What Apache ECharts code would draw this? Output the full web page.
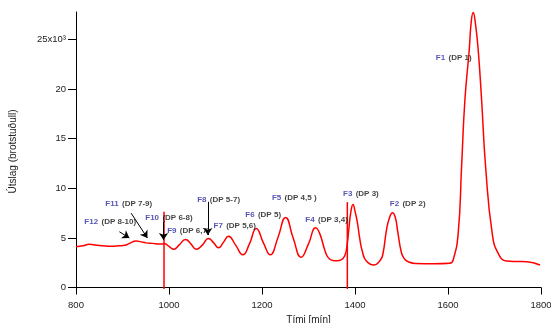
<!DOCTYPE html>
<html>
<head>
<meta charset="utf-8">
<script src="https://cdn.jsdelivr.net/npm/echarts@6/dist/echarts.min.js"></script>
<style>
html,body{margin:0;padding:0;background:#fff;}
#chart{width:551px;height:323px;}
</style>
</head>
<body>
<div id="chart"></div>
<script>
// Time (min) and signal (x10^3)
var curveX = [800, 815, 828.6, 845, 856.6, 875, 893.3, 905, 914.8, 929.2, 940, 950.8, 965, 979.4, 990.2, 1000, 1010.2, 1022, 1035.4, 1047, 1058.5, 1072, 1084.9, 1096, 1106.5, 1117, 1128, 1143, 1158.8, 1173, 1187.7, 1203, 1217.8, 1234, 1250.8, 1267, 1284.2, 1300, 1315.4, 1324, 1335, 1342, 1352, 1362, 1370, 1378, 1383, 1387, 1391, 1395.7, 1400, 1405, 1410, 1416, 1424, 1440.3, 1455, 1460.4, 1467.7, 1474, 1480.6, 1487, 1491.4, 1500, 1507, 1514.2, 1530, 1570, 1604, 1611.1, 1621.9, 1629.2, 1636.3, 1645.6, 1650, 1654.2, 1659, 1665, 1672.3, 1680.9, 1695.1, 1708, 1726.1, 1750, 1769.2, 1797.8];
var curveY = [4.1, 4.2, 4.35, 4.25, 4.2, 4.15, 4.2, 4.25, 4.45, 4.7, 4.6, 4.5, 4.45, 4.38, 4.4, 4.15, 3.85, 4.3, 4.85, 4.4, 3.85, 4.3, 4.95, 4.5, 4.0, 4.55, 5.18, 4.3, 3.3, 4.4, 5.96, 4.5, 3.3, 5.0, 7.07, 5.0, 3.05, 4.4, 6.02, 5.46, 3.78, 3.04, 2.72, 2.7, 2.78, 3.2, 4.3, 6.0, 7.6, 8.38, 7.7, 6.6, 5.0, 3.6, 2.7, 2.27, 2.8, 3.48, 5.79, 7.0, 7.53, 7.0, 5.79, 3.48, 2.85, 2.6, 2.42, 2.4, 2.45, 2.77, 5.46, 12.17, 18.88, 23.92, 26.8, 27.71, 26.6, 23.92, 18.88, 12.17, 5.46, 3.44, 2.67, 2.62, 2.6, 2.27];

// vertical markers (time, bottom, top)
var spikeX = [989.3, 1383.5];
var spikeBottom = [-0.15, -0.15];
var spikeTop = [7.63, 8.61];

// annotation labels
var labelF = ['F12', 'F11', 'F10', 'F9', 'F8', 'F7', 'F6', 'F5', 'F4', 'F3', 'F2', 'F1'];
var labelDP = ['(DP 8-10)', '(DP 7-9)', '(DP 6-8)', '(DP 6,7)', '(DP 5-7)', '(DP 5,6)', '(DP 5)', '(DP 4,5 )', '(DP 3,4)', '(DP 3)', '(DP 2)', '(DP 1)'];
var labelX = [818, 863, 949, 996, 1060.6, 1095.7, 1164, 1221.3, 1293.2, 1374.2, 1474.8, 1573.9];
var labelY = [6.63, 8.48, 7.07, 5.72, 8.88, 6.19, 7.3, 9.08, 6.8, 9.49, 8.41, 23.18];

// arrows: start (x,y) -> end (x,y)
var arrowX0 = [893.3, 918.5, 988.2, 1083.4];
var arrowY0 = [5.62, 7.5, 6.63, 8.64];
var arrowX1 = [914.8, 953.6, 988.2, 1083.4];
var arrowY1 = [4.99, 4.99, 4.78, 5.29];

// axis ticks
var xTicks = [800, 1000, 1200, 1400, 1600, 1800];
var yTicks = [0, 5, 10, 15, 20, 25];

var FONT = '"Liberation Sans", Arial, sans-serif';

var curveData = curveX.map(function (x, i) { return [x, curveY[i]]; });
var spikeSeries = spikeX.map(function (x, i) {
  return {
    type: 'line', data: [[x, spikeBottom[i]], [x, spikeTop[i]]],
    symbol: 'none', clip: false, silent: true,
    lineStyle: { color: '#ff0000', width: 1.5 }, z: 3
  };
});
var labelData = labelF.map(function (f, i) { return { value: [labelX[i], labelY[i]], f: f, dp: labelDP[i] }; });
var arrowData = arrowX0.map(function (x, i) {
  return [{ coord: [x, arrowY0[i]] }, { coord: [arrowX1[i], arrowY1[i]] }];
});

var chart = echarts.init(document.getElementById('chart'), null, { renderer: 'canvas' });
chart.setOption({
  animation: false,
  backgroundColor: '#ffffff',
  grid: { left: 76, right: 10, top: 12, bottom: 32, containLabel: false, outerBoundsMode: 'none' },
  xAxis: {
    type: 'value', min: 800, max: 1800, interval: 200,
    name: 'Tími [mín]', nameLocation: 'middle', nameGap: 20,
    nameTextStyle: { fontFamily: FONT, fontSize: 10, color: '#222' },
    axisLine: { lineStyle: { color: '#000', width: 1 } },
    axisTick: { length: 7, lineStyle: { color: '#000' } },
    axisLabel: { fontFamily: FONT, fontSize: 9.5, color: '#222', margin: 9,
      formatter: function (v) { return String(v); } },
    splitLine: { show: false }
  },
  yAxis: {
    type: 'value', min: -0.35, max: 27.77,
    name: 'Útslag (brotstuðull)', nameLocation: 'middle', nameGap: 58, nameRotate: 90,
    nameTextStyle: { fontFamily: FONT, fontSize: 10, color: '#222' },
    axisLine: { show: true, lineStyle: { color: '#000', width: 1 } },
    axisTick: { show: true, length: 8, lineStyle: { color: '#000' }, customValues: yTicks },
    axisLabel: {
      fontFamily: FONT, fontSize: 9.5, color: '#222', margin: 10, customValues: yTicks,
      formatter: function (v) { return v === 25 ? '25x10³' : String(v); }
    },
    splitLine: { show: false }
  },
  series: [
    {
      type: 'line', data: curveData, symbol: 'none', smooth: 0.5,
      lineStyle: { color: '#ff0000', width: 1.5 }, z: 3,
      markLine: {
        silent: true, symbol: ['none', 'arrow'], symbolSize: 7,
        lineStyle: { color: '#000', width: 1, type: 'solid' },
        label: { show: false }, data: arrowData
      }
    }
  ].concat(spikeSeries).concat([
    {
      type: 'scatter', data: labelData, symbolSize: 0, silent: true, z: 5,
      label: {
        show: true, position: 'right', distance: 0,
        formatter: function (p) { return '{f|' + p.data.f + '} {d|' + p.data.dp + '}'; },
        rich: {
          f: { fontFamily: FONT, fontSize: 8, fontWeight: 'bold', color: '#2b2ba0' },
          d: { fontFamily: FONT, fontSize: 8, fontWeight: 'bold', color: '#111' }
        }
      }
    }
  ])
});
</script>
</body>
</html>
